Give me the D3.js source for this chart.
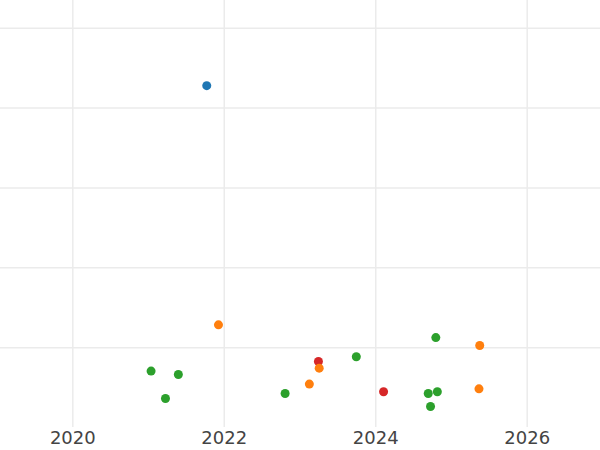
<!DOCTYPE html>
<html>
<head>
<meta charset="utf-8">
<script src="https://cdn.jsdelivr.net/npm/d3@7"></script>
<style>
  body { margin: 0; background: #fff; }
  .grid line { stroke: #ebebeb; stroke-width: 1.5; }
  .grid path { display: none; }
  .x.axis path, .x.axis line { display: none; }
  .x.axis text { font-family: "DejaVu Sans", sans-serif; font-size: 18px; fill: #444; }
</style>
</head>
<body>
<div id="chart"></div>
<script>
// data
var years  = [2021.775, 2021.93, 2021.04, 2021.40, 2021.23, 2022.81, 2023.25, 2023.26, 2023.13,
              2023.75, 2024.11, 2024.80, 2025.38, 2024.70, 2024.82, 2024.73, 2025.37];
var values = [42.74, 12.79, 7.0, 6.57, 3.57, 4.19, 8.2, 7.37, 5.37,
              8.79, 4.41, 11.2, 10.2, 4.19, 4.41, 2.57, 4.78];
var groups = ["A", "B", "C", "C", "C", "C", "D", "B", "B",
              "C", "D", "C", "B", "C", "C", "C", "B"];
var groupNames = ["A", "B", "C", "D"];
var xTicks = [2020, 2022, 2024, 2026];
var yTicks = [10, 20, 30, 40, 50];

var width = 600, height = 450, plotBottom = 427;

var svg = d3.select("#chart").append("svg")
  .attr("width", width)
  .attr("height", height);

// Scales
var x = d3.scaleLinear().domain([2019.045, 2026.968]).range([0, width]);
var y = d3.scaleLinear().domain([0, 53.47]).range([plotBottom, 0]);
var color = d3.scaleOrdinal().domain(groupNames)
  .range(["#1f77b4", "#ff7f0e", "#2ca02c", "#d62728"]);

//-- gridlines --//
svg.append("g")
  .attr("class", "grid")
  .call(d3.axisLeft(y).tickValues(yTicks).tickSize(-width).tickFormat(""));

svg.append("g")
  .attr("class", "grid")
  .attr("transform", "translate(0," + plotBottom + ")")
  .call(d3.axisBottom(x).tickValues(xTicks).tickSize(-plotBottom).tickFormat(""));

// x axis labels
svg.append("g")
  .attr("class", "x axis")
  .attr("transform", "translate(0," + plotBottom + ")")
  .call(d3.axisBottom(x).tickValues(xTicks).tickSize(0).tickPadding(4).tickFormat(d3.format("d")));

var pts = years.map(function(d, i) { return {year: d, value: values[i], group: groups[i]}; });

svg.selectAll(".dot").data(pts).enter()
  .append("circle")
  .attr("class", "dot")
  .attr("cx", function(d) { return x(d.year); })
  .attr("cy", function(d) { return y(d.value); })
  .attr("r", 4.5)
  .attr("fill", function(d) { return color(d.group); });
</script>
</body>
</html>
